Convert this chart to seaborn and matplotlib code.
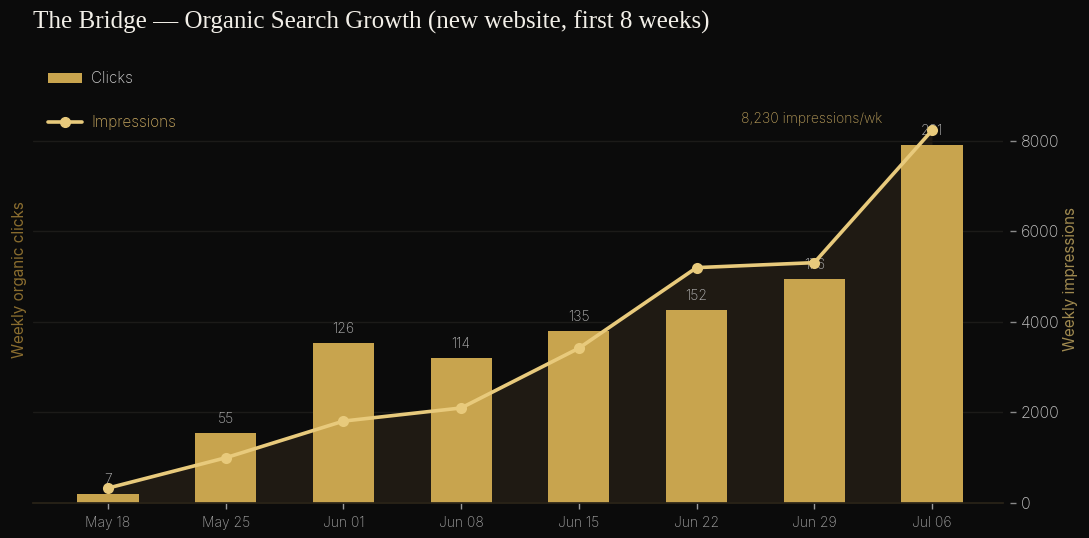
import numpy as np
import pandas as pd
import matplotlib
matplotlib.use('Agg')
import matplotlib.pyplot as plt
import seaborn as sns
from matplotlib.patches import Patch
from matplotlib.lines import Line2D

# ──────────────────────────────────────────────
# DATA
# ──────────────────────────────────────────────
weeks       = ['May 18', 'May 25', 'Jun 01', 'Jun 08', 'Jun 15', 'Jun 22', 'Jun 29', 'Jul 06']
clicks      = [7, 55, 126, 114, 135, 152, 176, 281]
impressions = [330, 1000, 1810, 2100, 3420, 5200, 5310, 8230]

BG        = '#0b0b0b'
BAR_COL   = '#c8a44e'
LINE_COL  = '#e8ca7c'
FILL_COL  = '#1f1a13'
GRID_COL  = '#1c1b19'

sns.set_theme(style='dark')
plt.rcParams['font.family'] = ['Inter', 'DejaVu Sans']
plt.rcParams['font.weight'] = 'light'

df = pd.DataFrame({'week': weeks, 'pos': np.arange(len(weeks)),
                   'clicks': clicks, 'impressions': impressions})

fig = plt.figure(figsize=(10.89, 5.38), dpi=100, facecolor=BG)
rect = [0.0303, 0.065, 0.8907, 0.831]

# back axes: fill + gridlines (impressions scale)
ax_bg = fig.add_axes(rect, facecolor=BG)
ax_bg.fill_between(df['pos'], df['impressions'], 0, color=FILL_COL, lw=0)
ax_bg.set_ylim(0, max(impressions) * 1.2)
ax_bg.set_yticks([2000, 4000, 6000, 8000])
ax_bg.grid(axis='y', color=GRID_COL, lw=1)
ax_bg.tick_params(left=False, labelleft=False, bottom=False, labelbottom=False)
for s in ax_bg.spines.values():
    s.set_visible(False)

# bars: clicks
ax = fig.add_axes(rect, sharex=ax_bg)
ax.patch.set_visible(False)
sns.barplot(data=df, x='pos', y='clicks', ax=ax, color=BAR_COL, width=0.52,
            saturation=1, native_scale=True, linewidth=0, edgecolor='none')
ax.set_ylim(0, max(clicks) * 1.25)
ax.set_xlim(-0.637, 7.603)
ax.bar_label(ax.containers[0], labels=[str(c) for c in clicks], padding=5,
             color='#b4b4b4', fontsize=10)
ax.set_xticks(df['pos'])
ax.set_xticklabels(weeks)
ax.set_xlabel('')
ax.set_ylabel('Weekly organic clicks', color='#8a6d2f', fontsize=11, labelpad=4)
ax.tick_params(axis='y', left=False, labelleft=False)
ax.tick_params(axis='x', bottom=True, colors='#9a9a9a', labelcolor='#a4a4a4',
               length=4, width=1, labelsize=10, pad=5)
for s in ['top', 'right', 'left']:
    ax.spines[s].set_visible(False)
ax.spines['bottom'].set_color('#2a2418')

# line: impressions
ax2 = fig.add_axes(rect, sharex=ax_bg)
ax2.patch.set_visible(False)
sns.lineplot(data=df, x='pos', y='impressions', ax=ax2, color=LINE_COL, lw=2.6,
             marker='o', markersize=8, markeredgewidth=0)
ax2.set_ylim(ax_bg.get_ylim())
ax2.yaxis.tick_right()
ax2.yaxis.set_label_position('right')
ax2.set_yticks([0, 2000, 4000, 6000, 8000])
ax2.set_ylabel('Weekly impressions', color='#a08a50', fontsize=11, labelpad=2)
ax2.set_xlabel('')
ax2.tick_params(axis='y', right=True, colors='#8a8a8a', labelcolor='#c4c4c4',
                length=4, width=1, labelsize=11.5, pad=4)
ax2.tick_params(axis='x', bottom=False, labelbottom=False)
for s in ['top', 'left', 'bottom']:
    ax2.spines[s].set_visible(False)
ax2.spines['right'].set_position(('outward', 5))
ax2.spines['right'].set_visible(False)

ax2.annotate(f'{impressions[-1]:,} impressions/wk', xy=(df['pos'].iloc[-1], impressions[-1]),
             xytext=(-36, 8), textcoords='offset points', ha='right', va='center',
             color='#b89c5a', fontsize=10)

handles = [Patch(facecolor=BAR_COL, edgecolor='none'),
           Line2D([0], [0], color=LINE_COL, lw=2.6, marker='o', markersize=7)]
leg = ax2.legend(handles, ['Clicks', 'Impressions'], loc='upper left',
                 bbox_to_anchor=(0.0, 1.0), frameon=False, fontsize=11,
                 labelspacing=1.9, handlelength=2.2, handletextpad=0.6,
                 borderaxespad=0.6, labelcolor=['#cfcfcf', '#c8a860'])

fig.text(0.0303, 0.958, 'The Bridge — Organic Search Growth (new website, first 8 weeks)',
         family=['Liberation Serif', 'DejaVu Serif'], fontsize=18, fontweight='medium',
         color='#f2efe8', ha='left', va='center')

fig.savefig('out.png', dpi=100, facecolor=BG)
